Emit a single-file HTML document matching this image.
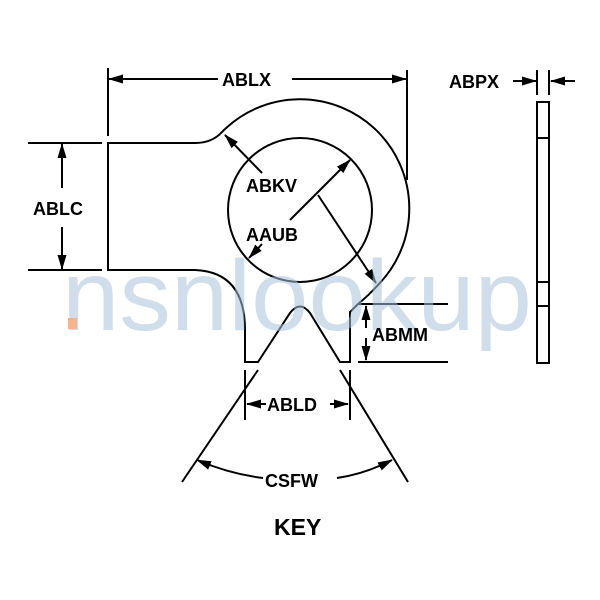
<!DOCTYPE html>
<html><head><style>body{margin:0;background:#fff}svg{display:block}</style></head><body>
<svg width="600" height="600" viewBox="0 0 600 600" xmlns="http://www.w3.org/2000/svg" font-family="Liberation Sans, sans-serif" font-weight="bold">
<defs><marker id="a" markerWidth="15" markerHeight="9" refX="14" refY="4.5" orient="auto" markerUnits="userSpaceOnUse"><path d="M0,0L15,4.5L0,9z" fill="#000"/></marker></defs>
<g stroke="#000" stroke-width="2" fill="none">
<path d="M108,143 L195,143 Q212,143 222,132 A107,107 0 1 1 378,285 Q368,296 358,304 L350,312 L350,362 L340,362 L310,313 Q300,300 290,313 L258,362 L245,362 L245,330 Q245,272 195,270 L108,270 Z" fill="#fff"/>
<circle cx="300" cy="210" r="72"/>
<line x1="108" y1="68" x2="108" y2="136"/><line x1="407" y1="70" x2="407" y2="180"/>
<line x1="28" y1="143" x2="102" y2="143"/><line x1="28" y1="270" x2="102" y2="270"/>
<line x1="358" y1="304" x2="448" y2="304"/><line x1="358" y1="362" x2="448" y2="362"/>
<line x1="245" y1="370" x2="245" y2="420"/><line x1="350" y1="370" x2="350" y2="420"/>
<line x1="258" y1="370" x2="182" y2="482"/><line x1="340" y1="370" x2="408" y2="482"/>
<line x1="537" y1="70" x2="537" y2="95"/><line x1="549" y1="70" x2="549" y2="95"/>
<rect x="537" y="102" width="12" height="261" fill="#fff"/>
<line x1="537" y1="138" x2="549" y2="138"/><line x1="537" y1="282" x2="549" y2="282"/><line x1="537" y1="306" x2="549" y2="306"/>
<g marker-end="url(#a)">
<line x1="218" y1="79" x2="109" y2="79"/><line x1="292" y1="79" x2="406" y2="79"/>
<line x1="62" y1="188" x2="62" y2="144"/><line x1="62" y1="227" x2="62" y2="269"/>
<line x1="262" y1="173" x2="225" y2="135"/><line x1="318" y1="195" x2="376" y2="283"/>
<line x1="290" y1="220" x2="350" y2="160"/><line x1="262" y1="244" x2="249" y2="258"/>
<line x1="366" y1="328" x2="366" y2="306"/><line x1="366" y1="338" x2="366" y2="360"/>
<line x1="266" y1="404" x2="247" y2="404"/><line x1="330" y1="404" x2="348" y2="404"/>
<line x1="513" y1="81" x2="536" y2="81"/><line x1="575" y1="81" x2="551" y2="81"/>
<path d="M263,478 Q230,474 197,460"/><path d="M337,478 Q365,474 392,460"/>
</g>
</g>
<text x="62" y="330" font-size="100" font-weight="normal" fill="#a9c3dd" fill-opacity="0.55" textLength="470" lengthAdjust="spacingAndGlyphs">nsnlookup</text>
<rect x="68" y="318" width="9" height="11" fill="#f5b48a"/>
<g font-size="18" fill="#000">
<text x="222" y="86">ABLX</text>
<text x="33" y="215">ABLC</text>
<text x="246" y="192">ABKV</text>
<text x="246" y="241">AAUB</text>
<text x="372" y="341">ABMM</text>
<text x="267" y="411">ABLD</text>
<text x="265" y="487">CSFW</text>
<text x="449" y="88">ABPX</text>
<text x="274" y="535" font-size="23">KEY</text>
</g>
</svg>
</body></html>
